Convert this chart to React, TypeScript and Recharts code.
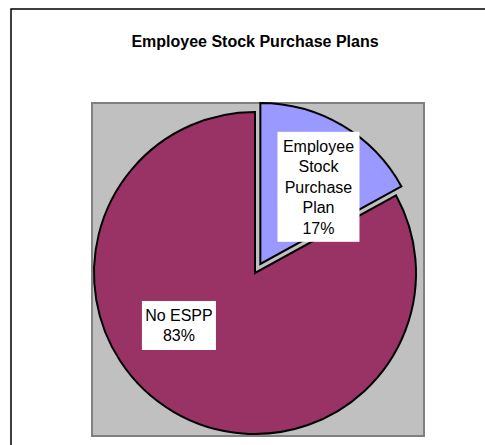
import React from "react";
import { PieChart, Pie, Cell } from "recharts";

const categories = ["Employee Stock Purchase Plan", "No ESPP"];
const shares = [17, 83];
const sliceColors = ["#9999FF", "#993366"];
const titleText = "Employee Stock Purchase Plans";

const data = categories.map((name, i) => ({ name, value: shares[i] }));

const W = 485;
const H = 445;
const FONT = "'Liberation Sans', Arial, Helvetica, sans-serif";
const R = 161;
const MAIN_CX = 255;
const MAIN_CY = 273;
const EXPLODE = 10.5;

// explode offset along mid-angle of first slice (startAngle 90, clockwise)
const firstMid = 90 - (shares[0] / (shares[0] + shares[1])) * 360 / 2;
const EXP_CX = MAIN_CX + EXPLODE * Math.cos((firstMid * Math.PI) / 180);
const EXP_CY = MAIN_CY - EXPLODE * Math.sin((firstMid * Math.PI) / 180);

function wrap(name: string, max = 9): string[] {
  const words = name.split(" ");
  const lines: string[] = [];
  let cur = "";
  for (const w of words) {
    if (!cur) cur = w;
    else if ((cur + " " + w).length <= max) cur = cur + " " + w;
    else {
      lines.push(cur);
      cur = w;
    }
  }
  if (cur) lines.push(cur);
  return lines;
}

// label placement (angle in degrees, fraction of radius), per slice index
const labelPlace = [
  { angle: 53, frac: 0.6 },
  { angle: 214.6, frac: 0.574 },
];

function makeLabel(onlyIndex: number) {
  return (props: any) => {
    const { index, cx, cy, name, value } = props;
    if (index !== onlyIndex) return null;
    const pl = labelPlace[index];
    const a = (pl.angle * Math.PI) / 180;
    const x = cx + R * pl.frac * Math.cos(a);
    const y = cy - R * pl.frac * Math.sin(a);
    const lines = [...wrap(name), `${value}%`];
    const lh = 20.5;
    const bw = index === 0 ? 82 : 74;
    const bh = lines.length * lh + (index === 0 ? 7.5 : 8);
    const startY = y - ((lines.length - 1) * lh) / 2;
    return (
      <g key={`lbl-${index}`}>
        <rect x={x - bw / 2} y={y - bh / 2} width={bw} height={bh} fill="#FFFFFF" />
        <text
          x={x}
          textAnchor="middle"
          fontFamily={FONT}
          fontSize={16}
          fill="#000"
        >
          {lines.map((l, i) => (
            <tspan key={i} x={x} y={startY + i * lh} dy="0.36em">
              {l}
            </tspan>
          ))}
        </text>
      </g>
    );
  };
}

export default function App() {
  return (
    <div style={{ position: "absolute", left: 0, top: 0, width: W, height: H, background: "#fff" }}>
      <svg
        width={W}
        height={H}
        style={{ position: "absolute", left: 0, top: 0 }}
      >
        <rect x={11} y={9} width={600} height={600} fill="#fff" stroke="#000" strokeWidth={1.5} />
        <text
          x={255}
          y={47}
          textAnchor="middle"
          fontFamily={FONT}
          fontSize={16}
          fontWeight="bold"
          fill="#000"
        >
          {titleText}
        </text>
        <rect x={92} y={103} width={332} height={333} fill="#C0C0C0" stroke="#808080" strokeWidth={2} />
      </svg>
      <div style={{ position: "absolute", left: 0, top: 0 }}>
        <PieChart width={W} height={H} margin={{ top: 0, right: 0, bottom: 0, left: 0 }}>
          <Pie
            data={data}
            dataKey="value"
            nameKey="name"
            cx={MAIN_CX}
            cy={MAIN_CY}
            outerRadius={R}
            startAngle={90}
            endAngle={-270}
            isAnimationActive={false}
            labelLine={false}
            label={makeLabel(1)}
          >
            {data.map((d, i) => (
              <Cell
                key={d.name}
                fill={i === 1 ? sliceColors[i] : "transparent"}
                stroke={i === 1 ? "#000" : "none"}
                strokeWidth={2}
              />
            ))}
          </Pie>
          <Pie
            data={data}
            dataKey="value"
            nameKey="name"
            cx={EXP_CX}
            cy={EXP_CY}
            outerRadius={R}
            startAngle={90}
            endAngle={-270}
            isAnimationActive={false}
            labelLine={false}
            label={makeLabel(0)}
          >
            {data.map((d, i) => (
              <Cell
                key={d.name}
                fill={i === 0 ? sliceColors[i] : "transparent"}
                stroke={i === 0 ? "#000" : "none"}
                strokeWidth={2}
              />
            ))}
          </Pie>
        </PieChart>
      </div>
    </div>
  );
}
